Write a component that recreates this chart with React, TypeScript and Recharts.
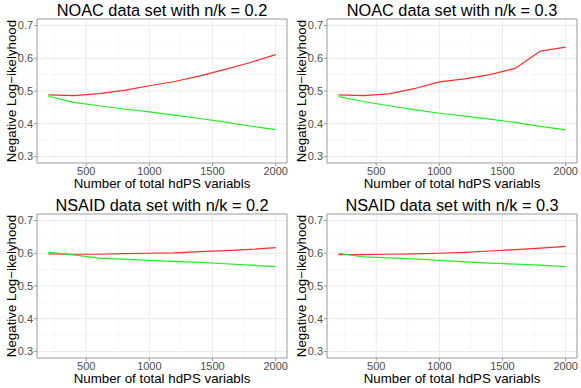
import React from "react";
import { LineChart, Line, XAxis, YAxis, CartesianGrid, ReferenceArea } from "recharts";

const xValues = [200, 400, 600, 800, 1000, 1200, 1400, 1600, 1800, 2000];

const noac02Red = [0.488, 0.486, 0.492, 0.502, 0.516, 0.529, 0.546, 0.566, 0.587, 0.611];
const noac02Green = [0.484, 0.465, 0.455, 0.445, 0.436, 0.426, 0.416, 0.405, 0.393, 0.382];
const noac03Red = [0.488, 0.486, 0.491, 0.507, 0.528, 0.537, 0.55, 0.569, 0.622, 0.634];
const noac03Green = [0.483, 0.468, 0.455, 0.443, 0.432, 0.423, 0.414, 0.404, 0.392, 0.381];
const nsaid02Red = [0.598, 0.597, 0.597, 0.599, 0.6, 0.601, 0.605, 0.608, 0.612, 0.617];
const nsaid02Green = [0.603, 0.595, 0.585, 0.582, 0.578, 0.575, 0.572, 0.568, 0.564, 0.559];
const nsaid03Red = [0.596, 0.596, 0.597, 0.598, 0.6, 0.603, 0.607, 0.611, 0.616, 0.621];
const nsaid03Green = [0.6, 0.589, 0.586, 0.583, 0.578, 0.574, 0.57, 0.567, 0.564, 0.559];

const titles = [
  "NOAC data set with n/k = 0.2",
  "NOAC data set with n/k = 0.3",
  "NSAID data set with n/k = 0.2",
  "NSAID data set with n/k = 0.3",
];
const xTicks = [500, 1000, 1500, 2000];
const xMinor = [250, 750, 1250, 1750];
const yTicks = [0.3, 0.4, 0.5, 0.6, 0.7];
const yMinor = [0.35, 0.45, 0.55, 0.65];
const yLabel = "Negative Log\u2212ikelyhood";
const xLabel = "Number of total hdPS variabls";

const FONT = "'Liberation Sans', Arial, sans-serif";
const W = 290;
const H = 194;

function build(red: number[], green: number[]) {
  return xValues.map((x, i) => ({ x, red: red[i], green: green[i] }));
}

const panels = [
  { title: titles[0], data: build(noac02Red, noac02Green), left: 0, top: 0 },
  { title: titles[1], data: build(noac03Red, noac03Green), left: 290, top: 0 },
  { title: titles[2], data: build(nsaid02Red, nsaid02Green), left: 0, top: 195 },
  { title: titles[3], data: build(nsaid03Red, nsaid03Green), left: 290, top: 195 },
];

function Panel({ title, data }: { title: string; data: any[] }) {
  return (
    <div style={{ position: "relative", width: W, height: H }}>
      <LineChart width={W} height={H} data={data} margin={{ top: 19, right: 3, bottom: 0, left: 0 }}>
        <CartesianGrid
          stroke="#f3f3f3"
          strokeWidth={0.6}
          horizontalValues={yMinor}
          verticalValues={xMinor}
        />
        <CartesianGrid
          stroke="#ebebeb"
          strokeWidth={1}
          horizontalValues={yTicks}
          verticalValues={xTicks}
        />
        <XAxis
          dataKey="x"
          type="number"
          domain={[110, 2090]}
          ticks={xTicks}
          height={31}
          axisLine={false}
          tickSize={3}
          tickLine={{ stroke: "#999999" }}
          tick={{ fill: "#4d4d4d", fontSize: 11, fontFamily: FONT }}
          tickMargin={1}
          allowDataOverflow
        />
        <YAxis
          type="number"
          domain={[0.28, 0.72]}
          ticks={yTicks}
          width={37}
          axisLine={false}
          tickSize={3}
          tickLine={{ stroke: "#999999" }}
          tick={{ fill: "#4d4d4d", fontSize: 11, fontFamily: FONT }}
          tickMargin={1}
          tickFormatter={(v: number) => v.toFixed(1)}
          allowDataOverflow
        />
        <ReferenceArea
          x1={110}
          x2={2090}
          y1={0.28}
          y2={0.72}
          fill="none"
          fillOpacity={0}
          stroke="#9a9a9a"
          strokeWidth={1}
          ifOverflow="visible"
        />
        <Line dataKey="red" stroke="#ff2a2a" strokeWidth={1.2} dot={false} isAnimationActive={false} />
        <Line dataKey="green" stroke="#22ee22" strokeWidth={1.2} dot={false} isAnimationActive={false} />
      </LineChart>
      <div
        style={{
          position: "absolute",
          left: 37,
          width: 250,
          top: 0,
          textAlign: "center",
          fontFamily: FONT,
          fontSize: 16.3,
          lineHeight: "20px",
          color: "#000",
          whiteSpace: "nowrap",
        }}
      >
        {title}
      </div>
      <div
        style={{
          position: "absolute",
          left: 37,
          width: 250,
          top: 176,
          textAlign: "center",
          fontFamily: FONT,
          fontSize: 13.3,
          lineHeight: "16px",
          color: "#000",
          whiteSpace: "nowrap",
        }}
      >
        {xLabel}
      </div>
      <div
        style={{
          position: "absolute",
          left: 12 - 72,
          top: 91 - 8,
          width: 144,
          height: 16,
          transform: "rotate(-90deg)",
          textAlign: "center",
          fontFamily: FONT,
          fontSize: 13.3,
          lineHeight: "16px",
          color: "#000",
          whiteSpace: "nowrap",
        }}
      >
        {yLabel}
      </div>
    </div>
  );
}

export default function App() {
  return (
    <div style={{ position: "absolute", left: 0, top: 0, width: 581, height: 388, background: "#fff" }}>
      {panels.map((p, i) => (
        <div key={i} style={{ position: "absolute", left: p.left, top: p.top }}>
          <Panel title={p.title} data={p.data} />
        </div>
      ))}
    </div>
  );
}
